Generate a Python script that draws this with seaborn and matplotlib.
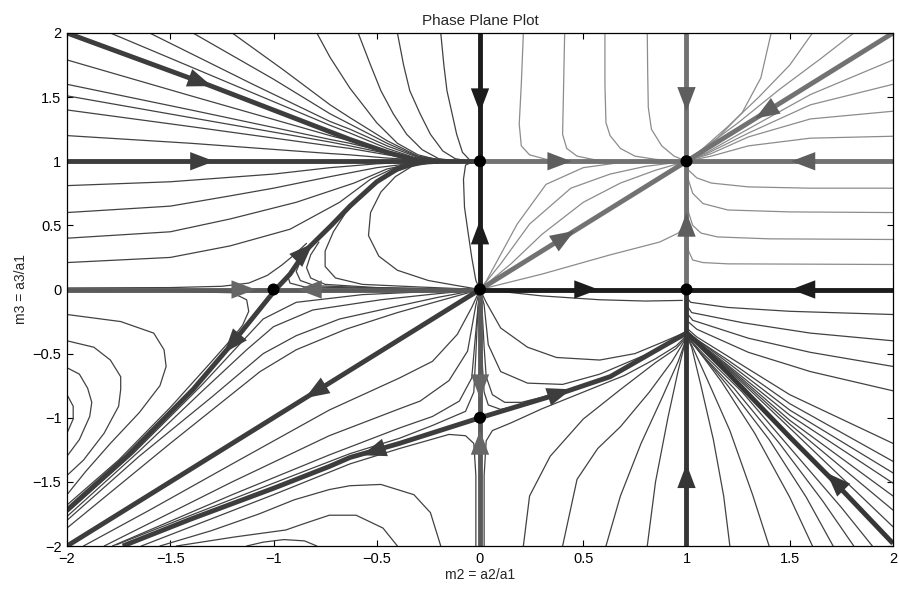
import numpy as np
import pandas as pd
import seaborn as sns
import matplotlib
matplotlib.use("Agg")
import matplotlib.pyplot as plt

# ---- thin trajectories (m2, m3) ----
upper_left_curves = [
    [(-1.79, 2.0), (-1.2, 1.6), (-0.726, 1.28), (-0.63, 1.22), (-0.45, 1.1), (-0.3, 1.02), (-0.15, 1.0)],
    [(-1.6, 2.0), (-1.1, 1.6), (-0.726, 1.31), (-0.63, 1.25), (-0.45, 1.12), (-0.3, 1.03), (-0.15, 1.0)],
    [(-1.39, 2.0), (-1.0, 1.64), (-0.726, 1.37), (-0.63, 1.29), (-0.45, 1.14), (-0.3, 1.035), (-0.15, 1.0)],
    [(-1.2, 2.0), (-0.95, 1.71), (-0.726, 1.44), (-0.63, 1.34), (-0.45, 1.16), (-0.3, 1.04), (-0.15, 1.0)],
    [(-0.79, 2.0), (-0.726, 1.81), (-0.63, 1.57), (-0.5, 1.3), (-0.4, 1.14), (-0.3, 1.05), (-0.2, 1.01), (-0.1, 1.0)],
    [(-0.59, 2.0), (-0.53, 1.75), (-0.48, 1.55), (-0.42, 1.37), (-0.355, 1.21), (-0.28, 1.09), (-0.2, 1.02), (-0.1, 1.0)],
    [(-0.4, 2.0), (-0.37, 1.75), (-0.34, 1.55), (-0.29, 1.37), (-0.24, 1.21), (-0.18, 1.08), (-0.12, 1.02), (-0.05, 1.0)],
    [(-0.19, 2.0), (-0.175, 1.75), (-0.16, 1.55), (-0.135, 1.37), (-0.113, 1.21), (-0.085, 1.07), (-0.05, 1.01), (-0.02, 1.0)],
    [(-2.0, 1.79), (-1.4, 1.51), (-0.726, 1.2), (-0.63, 1.16), (-0.45, 1.08), (-0.3, 1.02), (-0.15, 1.0)],
    [(-2.0, 1.6), (-1.4, 1.4), (-0.726, 1.17), (-0.63, 1.14), (-0.45, 1.07), (-0.3, 1.02), (-0.15, 1.0)],
    [(-2.0, 1.51), (-1.4, 1.34), (-0.726, 1.15), (-0.63, 1.12), (-0.45, 1.06), (-0.3, 1.02), (-0.15, 1.0)],
    [(-2.0, 1.4), (-1.4, 1.27), (-0.726, 1.12), (-0.63, 1.1), (-0.45, 1.05), (-0.3, 1.015), (-0.15, 1.0)],
    [(-2.0, 1.2), (-1.4, 1.14), (-0.726, 1.06), (-0.63, 1.05), (-0.45, 1.025), (-0.3, 1.01), (-0.15, 1.0)],
    [(-2.0, 0.81), (-1.5, 0.84), (-1.0, 0.9), (-0.726, 0.95), (-0.5, 0.98), (-0.3, 0.995), (-0.15, 1.0)],
    [(-2.0, 0.6), (-1.5, 0.65), (-1.21, 0.73), (-1.0, 0.79), (-0.726, 0.88), (-0.5, 0.95), (-0.3, 0.99), (-0.15, 1.0)],
    [(-2.0, 0.4), (-1.5, 0.45), (-1.21, 0.55), (-0.89, 0.68), (-0.61, 0.83), (-0.45, 0.94), (-0.3, 0.99), (-0.15, 1.0)],
    [(-2.0, 0.21), (-1.5, 0.25), (-1.21, 0.34), (-0.92, 0.47), (-0.68, 0.68), (-0.53, 0.86), (-0.4, 0.96), (-0.3, 0.995), (-0.15, 1.0)],
]

inner_left_curves = [
    [(0.0, 0.0), (-0.11, 0.03), (-0.25, 0.07), (-0.4, 0.15), (-0.49, 0.26), (-0.54, 0.42), (-0.53, 0.6),
     (-0.48, 0.76), (-0.41, 0.88), (-0.33, 0.96), (-0.2, 1.0)],
    [(0.0, 0.0), (-0.3, 0.02), (-0.57, 0.04), (-0.7, 0.09), (-0.75, 0.18), (-0.75, 0.3), (-0.71, 0.45),
     (-0.65, 0.6), (-0.56, 0.75), (-0.45, 0.89), (-0.33, 0.97), (-0.2, 1.0)],
    [(0.0, 0.0), (-0.5, 0.01), (-0.85, 0.02), (-0.92, 0.05), (-0.93, 0.1), (-0.91, 0.16)],
    [(0.0, 0.0), (-0.5, 0.012), (-0.8, 0.03), (-0.87, 0.07), (-0.89, 0.14), (-0.87, 0.22), (-0.84, 0.3)],
    [(0.0, 0.0), (-0.5, 0.015), (-0.75, 0.04), (-0.82, 0.09), (-0.84, 0.17), (-0.82, 0.27), (-0.78, 0.37)],
    [(-2.0, 0.012), (-1.5, 0.015), (-1.25, 0.025), (-1.12, 0.05), (-1.03, 0.11), (-0.96, 0.19), (-0.9, 0.27), (-0.84, 0.36)],
    [(-0.03, 1.0), (-0.07, 0.97), (-0.08, 0.86), (-0.075, 0.64), (-0.06, 0.47), (-0.04, 0.25), (-0.02, 0.07), (0.0, 0.0)],
]

wedge_curves = [
    [(-2.0, -0.012), (-1.5, -0.015), (-1.2, -0.025), (-1.13, -0.08), (-1.12, -0.17), (-1.15, -0.28), (-1.2, -0.38),
     (-1.31, -0.58), (-1.5, -0.92), (-1.75, -1.33), (-2.0, -1.68)],
    [(0.0, 0.0), (-0.3, -0.02), (-0.57, -0.04), (-0.89, -0.1), (-1.05, -0.23), (-1.16, -0.42), (-1.35, -0.75),
     (-1.68, -1.28), (-2.0, -1.74)],
    [(0.0, 0.0), (-0.25, -0.04), (-0.48, -0.08), (-0.81, -0.16), (-1.0, -0.29), (-1.13, -0.47), (-1.35, -0.8),
     (-1.65, -1.26), (-2.0, -1.77)],
    [(0.0, 0.0), (-0.2, -0.06), (-0.4, -0.13), (-0.68, -0.23), (-0.89, -0.36), (-1.05, -0.5), (-1.3, -0.84),
     (-1.65, -1.3), (-2.0, -1.8)],
    [(0.0, 0.0), (-0.2, -0.09), (-0.4, -0.18), (-0.65, -0.31), (-0.89, -0.47), (-1.065, -0.64), (-1.5, -1.2), (-2.0, -1.86)],
]

lower_left_curves = [
    [(0.0, 0.0), (-0.04, -0.14), (-0.11, -0.35), (-0.23, -0.56), (-0.39, -0.69), (-0.73, -0.94), (-1.2, -1.36),
     (-1.6, -1.72), (-1.92, -2.0)],
    [(0.0, 0.0), (-0.02, -0.12), (-0.06, -0.48), (-0.15, -0.71), (-0.29, -0.87), (-0.39, -0.93), (-0.73, -1.14),
     (-1.2, -1.5), (-1.82, -2.0)],
    [(0.0, 0.0), (-0.01, -0.14), (-0.04, -0.69), (-0.1, -0.87), (-0.23, -0.99), (-0.39, -1.08), (-0.73, -1.29),
     (-1.2, -1.6), (-1.78, -2.0)],
    [(0.0, 0.0), (-0.01, -0.15), (-0.02, -0.5), (-0.03, -0.8), (-0.07, -0.95), (-0.23, -1.06), (-0.39, -1.16),
     (-0.63, -1.28), (-1.0, -1.51), (-1.4, -1.76), (-1.76, -1.99)],
    [(-0.02, -2.0), (-0.02, -1.45), (-0.03, -1.2), (-0.07, -1.14), (-0.15, -1.13), (-0.39, -1.24), (-0.63, -1.36),
     (-1.0, -1.6), (-1.4, -1.85), (-1.64, -2.0)],
    [(-0.19, -2.0), (-0.24, -1.74), (-0.32, -1.6), (-0.48, -1.52), (-0.63, -1.53), (-0.73, -1.56), (-0.9, -1.64),
     (-1.07, -1.75), (-1.3, -1.88), (-1.55, -2.0)],
    [(-0.4, -2.0), (-0.47, -1.86), (-0.6, -1.76), (-0.73, -1.76), (-0.86, -1.83), (-0.94, -1.875), (-1.19, -1.93),
     (-1.47, -2.0)],
    [(-0.79, -2.0), (-0.85, -1.96), (-0.95, -1.95), (-1.05, -1.97), (-1.13, -2.0)],
    [(-2.0, -0.195), (-1.74, -0.25), (-1.58, -0.34), (-1.53, -0.47), (-1.52, -0.6), (-1.55, -0.75), (-1.65, -0.96),
     (-1.79, -1.2), (-1.91, -1.42), (-2.0, -1.6)],
    [(-2.0, -0.4), (-1.87, -0.45), (-1.79, -0.55), (-1.74, -0.68), (-1.74, -0.78), (-1.75, -0.91), (-1.82, -1.12),
     (-1.92, -1.33), (-2.0, -1.45)],
    [(-2.0, -0.61), (-1.94, -0.66), (-1.9, -0.77), (-1.88, -0.88), (-1.89, -0.99), (-1.94, -1.17), (-2.0, -1.3)],
    [(-2.0, -0.82), (-1.97, -0.91), (-1.97, -1.01), (-2.0, -1.12)],
]

lower_mid_curves = [
    [(0.0, 0.0), (0.1, -0.015), (0.3, -0.05), (0.58, -0.08), (0.8, -0.09), (0.98, -0.085)],
    [(0.0, 0.0), (0.03, -0.1), (0.1, -0.3), (0.23, -0.45), (0.37, -0.53), (0.58, -0.55), (0.75, -0.5), (0.87, -0.42), (1.0, -0.33)],
    [(0.0, 0.0), (0.02, -0.12), (0.04, -0.43), (0.1, -0.64), (0.23, -0.73), (0.4, -0.74), (0.58, -0.66), (0.8, -0.51),
     (0.92, -0.42), (1.0, -0.34)],
    [(0.0, 0.0), (0.01, -0.15), (0.02, -0.45), (0.03, -0.68), (0.06, -0.82), (0.12, -0.88), (0.2, -0.88), (0.3, -0.84), (0.4, -0.79)],
    [(0.0, 0.0), (0.005, -0.2), (0.01, -0.55), (0.02, -0.8), (0.04, -0.9), (0.1, -0.935), (0.2, -0.9)],
    [(0.02, -2.0), (0.02, -1.45), (0.03, -1.18), (0.06, -1.1), (0.15, -1.04), (0.3, -0.93), (0.5, -0.8), (0.7, -0.67),
     (0.85, -0.54), (0.95, -0.44), (1.0, -0.36)],
    [(0.21, -2.0), (0.24, -1.61), (0.34, -1.3), (0.5, -1.01), (0.68, -0.78), (0.85, -0.57), (0.95, -0.46), (1.0, -0.37)],
    [(0.4, -2.0), (0.47, -1.48), (0.57, -1.24), (0.68, -1.07), (0.82, -0.8), (0.93, -0.56), (0.99, -0.4)],
    [(0.61, -2.0), (0.68, -1.61), (0.78, -1.2), (0.88, -0.85), (0.96, -0.56), (1.0, -0.38)],
    [(0.81, -2.0), (0.85, -1.5), (0.91, -1.0), (0.96, -0.63), (0.995, -0.4)],
]

lower_right_curves = [
    [(1.21, -2.0), (1.18, -1.61), (1.13, -1.17), (1.07, -0.75), (1.025, -0.45), (1.0, -0.36)],
    [(1.4, -2.0), (1.32, -1.6), (1.21, -1.1), (1.1, -0.7), (1.03, -0.45), (1.0, -0.36)],
    [(1.61, -2.0), (1.5, -1.62), (1.33, -1.12), (1.17, -0.72), (1.05, -0.46), (1.0, -0.36)],
    [(1.71, -2.0), (1.58, -1.62), (1.4, -1.17), (1.2, -0.75), (1.06, -0.48), (1.0, -0.36)],
    [(1.81, -2.0), (1.66, -1.65), (1.45, -1.2), (1.23, -0.77), (1.07, -0.5), (1.0, -0.36)],
    [(1.9, -2.0), (1.75, -1.7), (1.52, -1.27), (1.27, -0.8), (1.08, -0.5), (1.0, -0.36)],
    [(1.0, -0.06), (1.02, -0.1), (1.2, -0.14), (1.5, -0.17), (2.0, -0.195)],
    [(1.0, -0.12), (1.025, -0.18), (1.275, -0.26), (1.6, -0.34), (2.0, -0.4)],
    [(1.0, -0.18), (1.03, -0.24), (1.3, -0.38), (1.6, -0.49), (2.0, -0.6)],
    [(1.0, -0.24), (1.05, -0.31), (1.3, -0.49), (1.6, -0.64), (2.0, -0.79)],
    [(1.0, -0.3), (1.05, -0.37), (1.2, -0.52), (1.5, -0.82), (2.0, -1.2)],
    [(1.0, -0.32), (1.05, -0.39), (1.2, -0.55), (1.5, -0.89), (2.0, -1.34)],
    [(1.0, -0.33), (1.2, -0.57), (1.5, -0.94), (2.0, -1.43)],
    [(1.0, -0.335), (1.2, -0.59), (1.5, -0.98), (2.0, -1.51)],
    [(1.0, -0.34), (1.2, -0.6), (1.5, -1.02), (2.0, -1.61)],
    [(1.0, -0.34), (1.2, -0.61), (1.5, -1.05), (2.0, -1.72)],
    [(1.0, -0.34), (1.2, -0.62), (1.5, -1.08), (2.0, -1.85)],
]

upper_right_curves = [
    [(0.21, 2.0), (0.2, 1.6), (0.19, 1.29), (0.2, 1.12), (0.24, 1.05), (0.32, 1.015), (0.45, 1.0)],
    [(0.41, 2.0), (0.405, 1.6), (0.4, 1.21), (0.42, 1.1), (0.47, 1.04), (0.56, 1.01), (0.7, 1.0)],
    [(0.605, 2.0), (0.605, 1.6), (0.61, 1.3), (0.63, 1.2), (0.68, 1.1), (0.75, 1.04), (0.85, 1.015), (0.97, 1.0)],
    [(0.81, 2.0), (0.812, 1.7), (0.815, 1.42), (0.83, 1.25), (0.88, 1.12), (0.94, 1.04), (1.0, 1.0)],
    [(1.41, 2.0), (1.36, 1.65), (1.27, 1.38), (1.15, 1.18), (1.05, 1.06), (1.0, 1.0)],
    [(1.61, 2.0), (1.5, 1.75), (1.35, 1.5), (1.2, 1.27), (1.08, 1.1), (1.0, 1.0)],
    [(1.81, 2.0), (1.65, 1.8), (1.45, 1.56), (1.25, 1.3), (1.1, 1.12), (1.0, 1.0)],
    [(2.0, 1.79), (1.6, 1.52), (1.275, 1.23), (1.1, 1.07), (1.0, 1.0)],
    [(2.0, 1.6), (1.6, 1.44), (1.3, 1.22), (1.1, 1.06), (1.0, 1.0)],
    [(2.0, 1.39), (1.6, 1.33), (1.3, 1.19), (1.12, 1.06), (1.0, 1.0)],
    [(2.0, 1.195), (1.6, 1.18), (1.3, 1.12), (1.12, 1.04), (1.0, 1.0)],
    [(1.0, 1.0), (1.01, 0.93), (1.05, 0.87), (1.12, 0.83), (1.3, 0.8), (1.6, 0.79), (2.0, 0.79)],
    [(1.0, 1.0), (1.01, 0.85), (1.03, 0.75), (1.08, 0.67), (1.2, 0.62), (1.5, 0.605), (2.0, 0.6)],
    [(1.0, 0.85), (1.01, 0.6), (1.03, 0.5), (1.07, 0.44), (1.15, 0.41), (1.4, 0.395), (2.0, 0.39)],
    [(1.0, 0.5), (1.01, 0.3), (1.03, 0.23), (1.08, 0.21), (1.2, 0.2), (2.0, 0.195)],
    [(0.0, 0.0), (0.03, 0.065), (0.18, 0.51), (0.32, 0.82), (0.5, 0.95), (0.68, 0.99), (0.9, 1.0)],
    [(0.0, 0.0), (0.1, 0.2), (0.24, 0.51), (0.44, 0.79), (0.63, 0.9), (0.8, 0.96), (1.0, 1.0)],
    [(0.0, 0.0), (0.15, 0.2), (0.3, 0.43), (0.5, 0.68), (0.68, 0.83), (0.85, 0.93), (1.0, 1.0)],
    [(0.0, 0.0), (0.3, 0.12), (0.63, 0.27), (0.87, 0.37), (0.96, 0.44), (1.0, 0.52)],
]

# ---- thick invariant lines / separatrices ----
y1_left = [(-2.0, 1.0), (0.0, 1.0)]
diag_upper_left = [(-2.0, 2.0), (-1.34, 1.61), (-0.63, 1.17), (-0.45, 1.07), (-0.32, 1.01), (-0.2, 1.0)]
x0_upper = [(0.0, 0.0), (0.0, 2.0)]
y1_right = [(0.0, 1.0), (2.0, 1.0)]
x1_upper = [(1.0, 0.0), (1.0, 2.0)]
diag_upper_right = [(0.0, 0.0), (2.0, 2.0)]
y0_right = [(0.0, 0.0), (2.0, 0.0)]
y0_left = [(-2.0, 0.0), (0.0, 0.0)]
x0_lower = [(0.0, -2.0), (0.0, 0.0)]
x1_lower = [(1.0, -2.0), (1.0, 0.0)]
diag_lower_left = [(-2.0, -2.0), (0.0, 0.0)]
separatrix = [(-2.0, -1.72), (-1.71, -1.3), (-1.39, -0.78), (-1.21, -0.44), (-1.08, -0.18), (-0.99, 0.0),
              (-0.92, 0.12), (-0.84, 0.31), (-0.72, 0.5), (-0.63, 0.65), (-0.5, 0.84), (-0.4, 0.94),
              (-0.3, 0.99), (-0.2, 1.0)]
lower_branch_left = [(0.0, -1.0), (-0.39, -1.2), (-0.63, -1.31), (-0.73, -1.38), (-1.0, -1.55), (-1.4, -1.79), (-1.73, -2.0)]
lower_branch_right = [(0.0, -1.0), (0.39, -0.81), (0.63, -0.68), (0.89, -0.44), (1.0, -0.34)]
diag_lower_right = [(1.0, -0.34), (1.05, -0.41), (1.2, -0.65), (1.5, -1.15), (1.71, -1.49), (2.0, -1.98)]

# fixed points
fixed_m2 = [0, 1, 0, 1, -1, 0]
fixed_m3 = [1, 1, 0, 0, 0, -1]

# arrows: position and direction
arrow_xy = [(-1.33, 1.0), (-1.34, 1.61), (0.0, 1.45), (0.0, 0.47), (0.4, 1.0), (1.55, 1.0), (1.0, 1.46),
            (1.0, 0.53), (0.42, 0.42), (1.37, 1.37), (0.53, 0.0), (1.55, 0.0), (-1.13, 0.0), (-0.84, 0.0),
            (-0.84, 0.31), (-1.21, -0.44), (-0.81, -0.81), (0.0, -0.78), (0.0, -1.17), (0.4, -0.8),
            (-0.53, -1.27), (1.0, -1.43), (1.71, -1.48)]
arrow_dir = [(1, 0), (1, -0.59), (0, -1), (0, 1), (1, 0), (-1, 0), (0, -1),
             (0, 1), (1, 1), (-1, -1), (1, 0), (-1, 0), (1, 0), (-1, 0),
             (1, 1.6), (-1, -1.9), (-1, -1), (0, -1), (0, 1), (1, 0.53),
             (-1, -0.55), (0, 1), (-1, 1.64)]

xticks = [-2, -1.5, -1, -0.5, 0, 0.5, 1, 1.5, 2]
tick_labels = ['\u22122', '\u22121.5', '\u22121', '\u22120.5', '0', '0.5', '1', '1.5', '2']


def to_frame(curves):
    rows = []
    for i, c in enumerate(curves):
        for x, y in c:
            rows.append((i, x, y))
    return pd.DataFrame(rows, columns=['curve', 'x', 'y'])


sns.set_style('ticks')
plt.rcParams['font.family'] = ['Liberation Sans', 'DejaVu Sans']

fig = plt.figure(figsize=(8.99, 5.92), dpi=100)
ax = fig.add_axes([67 / 899, 46 / 592, 826 / 899, 513 / 592])

dark = '#424242'
light = '#8c8c8c'
for curves, col in [(upper_left_curves, dark), (inner_left_curves, dark), (wedge_curves, dark),
                    (lower_left_curves, dark), (lower_mid_curves, dark), (lower_right_curves, dark),
                    (upper_right_curves, light)]:
    sns.lineplot(data=to_frame(curves), x='x', y='y', units='curve', estimator=None, sort=False,
                 color=col, linewidth=0.9, ax=ax, legend=False)

thick = [
    (y1_right, '#727272'), (x1_upper, '#727272'), (diag_upper_right, '#727272'),
    (y1_left, '#3d3d3d'), (diag_upper_left, '#3d3d3d'),
    (y0_left, '#5a5a5a'), (x0_lower, '#5a5a5a'),
    (separatrix, '#3d3d3d'), (diag_lower_left, '#3d3d3d'),
    (lower_branch_left, '#3d3d3d'), (lower_branch_right, '#3d3d3d'),
    (x1_lower, '#363636'), (diag_lower_right, '#363636'),
    (x0_upper, '#1c1c1c'), (y0_right, '#1c1c1c'),
]
for pts, col in thick:
    df = pd.DataFrame(pts, columns=['x', 'y'])
    sns.lineplot(data=df, x='x', y='y', sort=False, estimator=None, color=col, linewidth=3.5,
                 ax=ax, legend=False, solid_capstyle='butt')

ax.set_xlim(-2, 2)
ax.set_ylim(-2, 2)

arrow_cols = ['#3d3d3d', '#3d3d3d', '#1c1c1c', '#1c1c1c', '#5e5e5e', '#5e5e5e', '#5e5e5e',
              '#5e5e5e', '#5e5e5e', '#5e5e5e', '#1c1c1c', '#1c1c1c', '#666666', '#666666',
              '#3d3d3d', '#3d3d3d', '#3d3d3d', '#666666', '#666666', '#3d3d3d',
              '#3d3d3d', '#363636', '#363636']
for (x, y), (dx, dy), col in zip(arrow_xy, arrow_dir, arrow_cols):
    p = ax.transData.transform((x, y))
    d = ax.transData.transform((x + dx * 0.1, y + dy * 0.1)) - p
    d = d / np.hypot(*d)
    tip = ax.transData.inverted().transform(p + d * 9)
    tail = ax.transData.inverted().transform(p - d * 9)
    ax.annotate('', xy=tip, xytext=tail, zorder=6,
                arrowprops=dict(arrowstyle='-|>,head_length=1.45,head_width=0.55', mutation_scale=12,
                                color=col, lw=0, shrinkA=0, shrinkB=0))

sns.scatterplot(x=fixed_m2, y=fixed_m3, color='black', s=75, edgecolor='none', zorder=7, ax=ax)

ax.set_xticks(xticks)
ax.set_xticklabels(tick_labels)
ax.set_yticks(xticks)
ax.set_yticklabels(tick_labels)
ax.tick_params(direction='in', top=True, right=True, length=4, width=0.8, labelsize=10.5, pad=4,
               colors='black')
for s in ax.spines.values():
    s.set_linewidth(0.9)
    s.set_color('black')
ax.set_xlabel('m2 = a2/a1', fontsize=10, labelpad=2)
ax.set_ylabel('m3 = a3/a1', fontsize=10, labelpad=3)
ax.set_title('Phase Plane Plot', fontsize=11, pad=6)

fig.savefig('out.png', dpi=100)
